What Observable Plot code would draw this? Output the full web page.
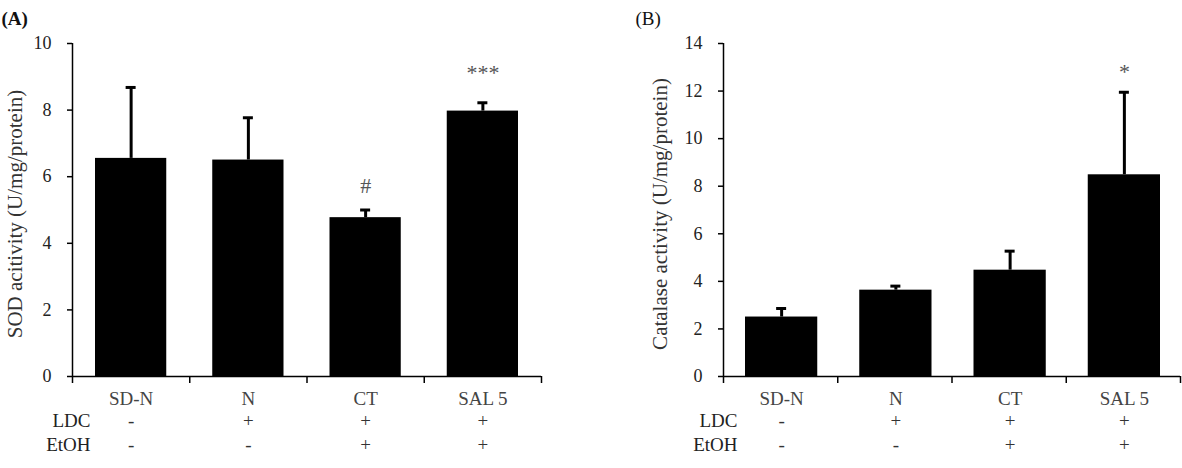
<!DOCTYPE html>
<html><head><meta charset="utf-8">
<script src="https://cdn.jsdelivr.net/npm/d3@7"></script>
<script src="https://cdn.jsdelivr.net/npm/@observablehq/plot@0.6"></script>
<style>
body{margin:0;background:#fff;}
#wrap{display:flex;width:1182px;height:468px;overflow:hidden;}
#wrap svg{overflow:visible;}
</style></head><body><div id="wrap"></div>
<script>
const categories = ["SD-N", "N", "CT", "SAL 5"];
const ldc = ["-", "+", "+", "+"];
const etoh = ["-", "-", "+", "+"];

const sodMean = [6.55, 6.5, 4.77, 7.97];
const sodErr = [2.13, 1.27, 0.23, 0.25];
const sodSig = ["", "", "#", "***"];
const sodSigY = [null, null, 5.72, 9.13];
const sodTicks = [0, 2, 4, 6, 8, 10];

const catMean = [2.5, 3.63, 4.47, 8.48];
const catErr = [0.36, 0.17, 0.8, 3.47];
const catSig = ["", "", "", "*"];
const catSigY = [null, null, null, 12.8];
const catTicks = [0, 2, 4, 6, 8, 10, 12, 14];

function panel(cfg) {
  const rows = categories.map((c, i) => ({
    i, cat: c, mean: cfg.mean[i], top: cfg.mean[i] + cfg.err[i],
    ldc: ldc[i], etoh: etoh[i], sig: cfg.sig[i], sigY: cfg.sigY[i]
  }));
  const font = "Liberation Serif, Times New Roman, serif";
  const mid = d => d.i + 0.5;
  return Plot.plot({
    width: 591, height: 468,
    marginLeft: cfg.ml, marginRight: cfg.mr, marginTop: 43, marginBottom: 92,
    x: {domain: [0, categories.length], axis: null},
    y: {domain: [0, d3.max(cfg.ticks)], axis: null},
    style: {fontFamily: font, background: "white", color: "black"},
    marks: [
      Plot.rectY(rows, {x1: d => d.i, x2: d => d.i + 1, y: "mean", fill: "black",
        insetLeft: cfg.il, insetRight: cfg.ir}),
      Plot.ruleX(rows, {x: mid, y1: "mean", y2: "top", strokeWidth: 3, dx: cfg.edx}),
      Plot.ruleY(rows, {x1: mid, x2: mid, y: "top", insetLeft: -5, insetRight: -5, strokeWidth: 3, dx: cfg.edx}),
      Plot.ruleX([0], {strokeWidth: 1.5}),
      Plot.ruleY([0], {strokeWidth: 1.5}),
      Plot.axisY({ticks: cfg.ticks, tickSize: 5, tickPadding: 16, fontSize: 18, strokeWidth: 1.5, fill: "#222"}),
      Plot.axisX({ticks: d3.range(categories.length + 1), tickSize: 7, tickFormat: () => "", strokeWidth: 1.5}),
      Plot.text(rows, {x: mid, text: "cat", frameAnchor: "bottom", dy: 28, fontSize: 19, fill: "#444", dx: cfg.edx}),
      Plot.text(rows, {x: mid, text: "ldc", frameAnchor: "bottom", dy: 50, fontSize: 19, fill: "#333", dx: cfg.edx}),
      Plot.text(rows, {x: mid, text: "etoh", frameAnchor: "bottom", dy: 74, fontSize: 19, fill: "#333", dx: cfg.edx}),
      Plot.text(["LDC"], {frameAnchor: "bottom-left", dx: cfg.rowDx, dy: 50, textAnchor: "end", fontSize: 19, fill: "#222"}),
      Plot.text(["EtOH"], {frameAnchor: "bottom-left", dx: cfg.rowDx, dy: 74, textAnchor: "end", fontSize: 19, fill: "#222"}),
      Plot.text(rows.filter(d => d.sig), {x: mid, y: "sigY", text: "sig", fontSize: cfg.sigSize, fill: "#555", dx: cfg.edx}),
      Plot.text([cfg.label], {frameAnchor: "left", textAnchor: "middle", rotate: -90, dx: cfg.labelDx, dy: 4, fontSize: 21, fill: "#333"}),
      Plot.text([cfg.letter], {frameAnchor: "top-left", dx: cfg.letterDx, dy: -32, textAnchor: "start",
        fontSize: 19, fontWeight: cfg.letterWeight, fill: "#111"})
    ]
  });
}

const wrap = document.getElementById("wrap");
wrap.append(panel({
  mean: sodMean, err: sodErr, sig: sodSig, sigY: sodSigY, ticks: sodTicks,
  ml: 72, mr: 50, il: 23, ir: 23, edx: 0, rowDx: 18, sigSize: 22,
  label: "SOD acitivity (U/mg/protein)", labelDx: -57,
  letter: "(A)", letterDx: -71, letterWeight: "bold"
}));
wrap.append(panel({
  mean: catMean, err: catErr, sig: catSig, sigY: catSigY, ticks: catTicks,
  ml: 132, mr: 2, il: 22, ir: 20, edx: 1, rowDx: 14, sigSize: 22,
  label: "Catalase activity (U/mg/protein)", labelDx: -63,
  letter: "(B)", letterDx: -88, letterWeight: "normal"
}));
</script>
</body></html>
